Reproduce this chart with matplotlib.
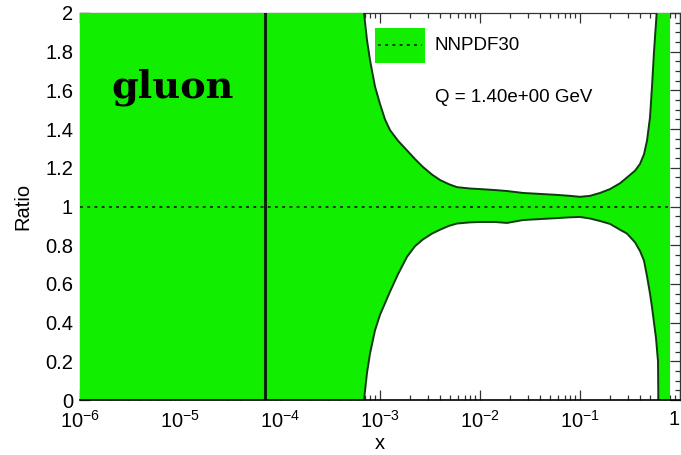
import numpy as np
import matplotlib
matplotlib.use("Agg")
import matplotlib.pyplot as plt
from matplotlib.patches import Rectangle
from matplotlib.lines import Line2D
from matplotlib.ticker import LogLocator, MultipleLocator, NullFormatter

plt.rcParams["font.family"] = ["Liberation Sans", "DejaVu Sans"]
plt.rcParams["mathtext.fontset"] = "custom"
plt.rcParams["mathtext.rm"] = "Liberation Sans"
plt.rcParams["mathtext.default"] = "regular"

# Uncertainty band of the gluon ratio: log10(x) grid with upper / lower edge
log_x = [-6.0, -5.0, -4.0, -3.5, -3.3, -3.16, -3.13, -3.10, -3.05, -3.0, -2.95,
         -2.90, -2.82, -2.73, -2.65, -2.57, -2.48, -2.40, -2.31, -2.23, -2.10,
         -2.00, -1.85, -1.73, -1.57, -1.40, -1.23, -1.10, -1.00, -0.90, -0.80,
         -0.70, -0.60, -0.53, -0.45, -0.40, -0.36, -0.33, -0.30, -0.28, -0.26,
         -0.24, -0.22, -0.20, -0.10]
upper = [5.0, 4.0, 3.0, 2.55, 2.2, 2.0, 1.86, 1.757, 1.62, 1.53, 1.45,
         1.395, 1.34, 1.29, 1.245, 1.204, 1.165, 1.137, 1.115, 1.10, 1.093,
         1.09, 1.085, 1.08, 1.07, 1.065, 1.06, 1.055, 1.05, 1.055, 1.07,
         1.09, 1.12, 1.15, 1.185, 1.22, 1.27, 1.34, 1.46, 1.62, 1.80,
         1.95, 2.1, 3.0, 4.0]
lower = [-3.0, -2.0, -1.0, -0.5, -0.15, 0.0, 0.14, 0.24, 0.36, 0.44, 0.50,
         0.56, 0.65, 0.74, 0.795, 0.83, 0.86, 0.88, 0.90, 0.912, 0.918,
         0.92, 0.92, 0.915, 0.93, 0.935, 0.94, 0.944, 0.946, 0.938, 0.925,
         0.91, 0.88, 0.86, 0.815, 0.77, 0.72, 0.64, 0.55, 0.48, 0.40,
         0.32, 0.2, -1.0, -2.0]
central = 1.0
x_marker = 7.1e-5

x_ticks = [1e-6, 1e-5, 1e-4, 1e-3, 1e-2, 1e-1, 1.0]
x_tick_labels = [r"$10^{-6}$", r"$10^{-5}$", r"$10^{-4}$", r"$10^{-3}$",
                 r"$10^{-2}$", r"$10^{-1}$", "1"]
y_ticks = [0, 0.2, 0.4, 0.6, 0.8, 1.0, 1.2, 1.4, 1.6, 1.8, 2.0]
y_tick_labels = ["0", "0.2", "0.4", "0.6", "0.8", "1", "1.2", "1.4", "1.6", "1.8", "2"]

W, H = 681, 455
fig = plt.figure(figsize=(W / 100, H / 100), dpi=100)
ax = fig.add_axes([80 / W, (H - 400) / H, 600 / W, 387 / H])

x = 10 ** np.array(log_x)
green = "#12ee00"
edge = "#0f3a0f"

ax.fill_between(x, lower, upper, color=green, lw=0, zorder=3)
ax.plot(x, upper, color=edge, lw=1.4, zorder=4)
ax.plot(x, lower, color=edge, lw=1.4, zorder=4)
ax.plot([x[0], x[-1]], [central, central], color="#0a2a0a", lw=1.3,
        ls=(0, (1.6, 2.4)), zorder=5)
ax.axvline(x_marker, color="#0b260b", lw=2.2, zorder=5)

ax.set_xscale("log")
ax.set_xlim(1e-6, 1.0)
ax.set_ylim(0, 2)

ax.set_xticks(x_ticks, x_tick_labels)
ax.xaxis.set_minor_locator(LogLocator(base=10, subs=np.arange(2, 10), numticks=20))
ax.xaxis.set_minor_formatter(NullFormatter())
ax.set_yticks(y_ticks, y_tick_labels)
ax.yaxis.set_minor_locator(MultipleLocator(0.05))

ax.tick_params(which="both", direction="in", top=True, right=True,
               color="#333333", width=0.9, labelsize=14.5)
ax.tick_params(which="major", length=7.5)
ax.tick_params(which="minor", length=3.8)
ax.tick_params(axis="x", which="major", pad=7)
ax.tick_params(axis="y", which="major", pad=5)
ax.get_xticklabels()[-1].set_horizontalalignment("right")

for side in ["top", "left", "right"]:
    ax.spines[side].set_linewidth(0.9)
    ax.spines[side].set_color("#333333")
ax.spines["bottom"].set_linewidth(1.2)
ax.spines["bottom"].set_zorder(6)

ax.set_xlabel("x", fontsize=14.5, labelpad=2)
ax.set_ylabel("Ratio", fontsize=14.5, labelpad=9)

# Legend entry drawn by hand in figure pixels
tf = fig.transFigure
fig.add_artist(Rectangle((375 / W, 1 - 63 / H), 50 / W, 35 / H, transform=tf,
                         facecolor=green, edgecolor="none"))
fig.add_artist(Line2D([378 / W, 422 / W], [1 - 45 / H, 1 - 45 / H], transform=tf,
                      color="#0a2a0a", lw=1.3, ls=(0, (1.6, 2.4))))
fig.text(435 / W, 1 - 45 / H, "NNPDF30", fontsize=13.5, va="center", ha="left")
fig.text(435 / W, 1 - 98 / H, "Q = 1.40e+00 GeV", fontsize=13.5, va="center", ha="left")
fig.text(111 / W, 1 - 97 / H, "gluon", fontsize=27.5, fontweight="bold",
         family=["DejaVu Serif"], va="baseline", ha="left")

fig.savefig("out.png", dpi=100)
